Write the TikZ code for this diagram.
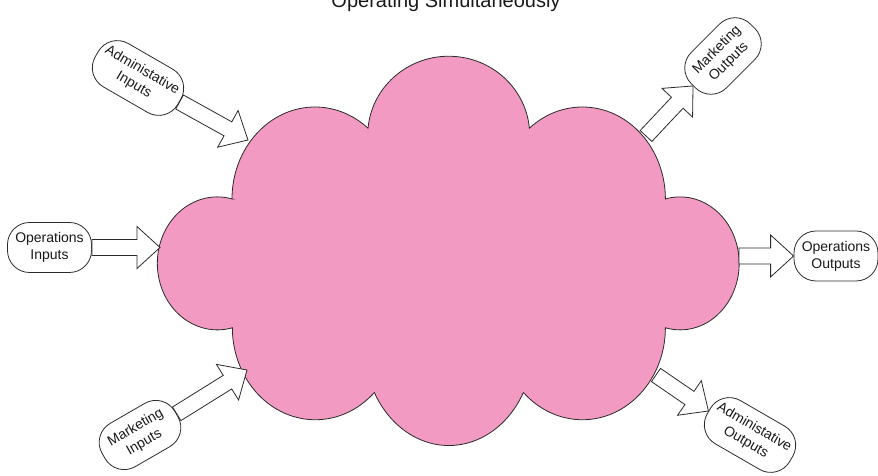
\documentclass[tikz,border=0pt]{standalone}
\usepackage{fontspec}
\setmainfont{Liberation Sans}
\usepackage{tikz}
\usetikzlibrary{
  calc
}
\definecolor{flowPink}{HTML}{F29AC1}
\definecolor{flowLine}{HTML}{2B2B2B}
\definecolor{flowText}{HTML}{1A1A1A}
\tikzset{
  flowCloud/.style={
    draw=flowLine,
    fill=flowPink,
    line width=0.8pt
  },
  flowBox/.style={
    draw=flowLine,
    fill=white,
    line width=0.8pt,
    rounded corners=22pt,
    minimum width=84pt,
    minimum height=50pt,
    inner xsep=6pt,
    align=center,
    text=flowText,
    font=\fontsize{14}{17}\selectfont
  },
  flowShape/.style={draw=flowLine, fill=white, line width=0.8pt, line join=miter}
}
% block arrow from #1 to #2 (shaft 16, head 43 wide, 23 long)
\newcommand{\flowArrow}[2]{%
  \coordinate (fb) at ($(#2)!23pt!(#1)$);
  \filldraw[flowShape]
    ($(#1)!8pt!90:(#2)$) -- ($(fb)!8pt!90:(#2)$) -- ($(fb)!21pt!90:(#2)$)
    -- (#2)
    -- ($(fb)!21pt!-90:(#2)$) -- ($(fb)!8pt!-90:(#2)$) -- ($(#1)!8pt!-90:(#2)$)
    -- cycle;
}

\begin{document}
\begin{tikzpicture}[x=1pt,y=1pt]
  \useasboundingbox (0,0) rectangle (878,476);

  \node[font=\fontsize{20}{24}\selectfont, text=flowText, anchor=base]
    (title) at (446,468) {Operating Simultaneously};

  % the cloud, bump by bump clockwise from the upper left joint
  \filldraw[flowCloud] (232,277)
    arc[start angle=180, end angle=50.3, x radius=83, y radius=92]
    arc[start angle=174.9, end angle=5.1, x radius=81, y radius=79]
    arc[start angle=129.7, end angle=0, x radius=83, y radius=92]
    arc[start angle=104.5, end angle=-104.5, x radius=59, y radius=66.5]
    arc[start angle=0, end angle=-135.3, x radius=83, y radius=92]
    arc[start angle=-28, end angle=-152, x radius=84.4, y radius=100]
    arc[start angle=-44.7, end angle=-180, x radius=83, y radius=92]
    arc[start angle=-75.5, end angle=-284.5, x radius=60, y radius=66.5]
    -- cycle;

  % where the arrows meet the cloud
  \coordinate (opInTip) at (160,228.5);
  \coordinate (adInTip) at (248,336);
  \coordinate (mkInTip) at (247,106);
  \coordinate (mkOutTail) at (646,340);
  \coordinate (opOutTail) at (739,220);
  \coordinate (adOutTail) at (656,101);

  % inputs
  \node[flowBox] (opIn) at (49.5,228.5) {Operations\\Inputs};
  \node[flowBox, rotate=-30] (adIn) at (138,398) {Administative\\Inputs};
  \node[flowBox, rotate=30] (mkIn) at (140,41) {Marketing\\Inputs};

  % outputs
  \node[flowBox, rotate=45] (mkOut) at (723,420) {Marketing\\Outputs};
  \node[flowBox] (opOut) at (836,220) {Operations\\Outputs};
  \node[flowBox, rotate=-30] (adOut) at (750,41) {Administative\\Outputs};

  \flowArrow{opIn.east}{opInTip}
  \flowArrow{adIn.east}{adInTip}
  \flowArrow{mkIn.east}{mkInTip}
  \flowArrow{mkOutTail}{mkOut.west}
  \flowArrow{opOutTail}{opOut.west}
  \flowArrow{adOutTail}{adOut.west}
\end{tikzpicture}
\end{document}
